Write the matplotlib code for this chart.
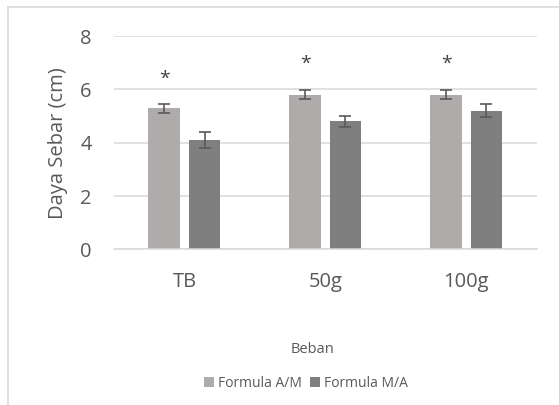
import matplotlib.pyplot as plt
import numpy as np
from matplotlib.lines import Line2D

categories = ["TB", "50g", "100g"]
series_names = ["Formula A/M", "Formula M/A"]
am_values = [5.3, 5.8, 5.8]
am_err = [0.17, 0.17, 0.17]
ma_values = [4.1, 4.8, 5.2]
ma_err = [0.29, 0.21, 0.25]
star_y = [6.4, 6.95, 6.95]

plt.rcParams["font.family"] = ["Open Sans", "DejaVu Sans"]
text_color = "#595959"

fig = plt.figure(figsize=(5.59, 4.05), dpi=100)
ax = fig.add_axes([0.204, 0.384, 0.756, 0.527])

x = np.arange(len(categories))
width = 0.225
offset = 0.143
ax.bar(x - offset, am_values, width, color="#AFABAB", label=series_names[0], zorder=2)
ax.bar(x + offset, ma_values, width, color="#7F7F7F", label=series_names[1], zorder=2)
ax.errorbar(x - offset, am_values, yerr=am_err, fmt="none", ecolor="#595959",
            elinewidth=1.2, capsize=4.2, capthick=1.2, zorder=3)
ax.errorbar(x + offset, ma_values, yerr=ma_err, fmt="none", ecolor="#595959",
            elinewidth=1.2, capsize=4.2, capthick=1.2, zorder=3)

# significance markers
for xi, yi in zip(x - offset, star_y):
    ax.text(xi, yi, "*", ha="center", va="center", fontsize=14, color="#404040")

ax.set_xlim(-0.5, 2.5)
ax.set_ylim(0, 8)
ax.set_yticks([0, 2, 4, 6, 8])
ax.set_xticks(x)
ax.set_xticklabels(categories)
ax.yaxis.grid(True, color="#D9D9D9", linewidth=1.1, zorder=0)
ax.set_axisbelow(True)
for side in ["top", "right", "left"]:
    ax.spines[side].set_visible(False)
ax.spines["bottom"].set_color("#D9D9D9")
ax.spines["bottom"].set_linewidth(1.1)
ax.tick_params(axis="both", length=0, labelsize=14.5, colors=text_color)
ax.tick_params(axis="y", pad=16)
ax.tick_params(axis="x", pad=16)

ax.set_ylabel("Daya Sebar (cm)", fontsize=14.5, color=text_color, labelpad=9)
fig.text(0.559, 0.136, "Beban", ha="center", va="center", fontsize=10.5, color=text_color)

leg = fig.legend(loc="center", bbox_to_anchor=(0.547, 0.054), ncol=2, frameon=False,
                 fontsize=10, labelcolor=text_color, handlelength=0.7, handleheight=0.7,
                 handletextpad=0.3, columnspacing=0.6)

# chart border (left and top visible)
fig.add_artist(Line2D([8 / 559, 8 / 559], [0, 1 - 6.5 / 405], transform=fig.transFigure,
                      color="#D9D9D9", linewidth=1.2))
fig.add_artist(Line2D([8 / 559, 1], [1 - 6.5 / 405, 1 - 6.5 / 405], transform=fig.transFigure,
                      color="#D9D9D9", linewidth=1.2))

fig.savefig("out.png", dpi=100)
